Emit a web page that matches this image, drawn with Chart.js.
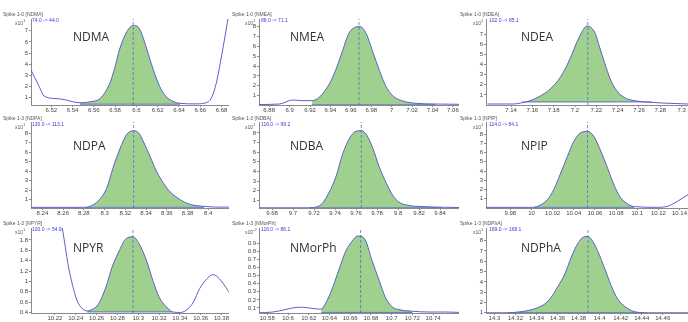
<!DOCTYPE html>
<html>
<head>
<meta charset="utf-8">
<script src="https://cdn.jsdelivr.net/npm/chart.js@4/dist/chart.umd.min.js"></script>
<style>
body { margin: 0; background: #fff; width: 688px; height: 322px; overflow: hidden; position: relative; font-family: "Liberation Sans", Arial, sans-serif; }
.panel { position: absolute; }
.name { position: absolute; font-family: "Open Sans", sans-serif; font-size: 12px; line-height: 12px; color: #333; white-space: nowrap; }
.hdr { position: absolute; font-size: 5px; line-height: 5px; color: #555; white-space: nowrap; }
.ion { color: #3b3bcf; }
</style>
</head>
<body>
<script>
// retention time (min) and counts (x10^n)
const ndmaX = [6.501, 6.508, 6.514, 6.528, 6.547, 6.557, 6.566, 6.575, 6.580, 6.584, 6.591, 6.597, 6.602, 6.606, 6.611, 6.616, 6.622, 6.628, 6.638, 6.641, 6.655, 6.667, 6.671, 6.675, 6.681, 6.687];
const ndmaY = [3.48, 2.14, 1.1, 0.9, 0.55, 0.65, 0.94, 2.29, 3.78, 5.27, 6.91, 7.47, 7.3, 6.46, 4.97, 3.48, 1.99, 1.09, 0.55, 0.5, 0.45, 0.6, 1.09, 2.29, 5.27, 8.6];
const nmeaX = [6.870, 6.890, 6.903, 6.912, 6.922, 6.929, 6.939, 6.945, 6.952, 6.958, 6.965, 6.969, 6.975, 6.981, 6.988, 6.994, 7.001, 7.010, 7.024, 7.043, 7.066];
const nmeaY = [0.1, 0.15, 0.56, 0.49, 0.49, 0.83, 2.2, 3.56, 5.6, 7.32, 7.98, 8.02, 7.32, 5.6, 3.56, 2.03, 1.0, 0.49, 0.22, 0.15, 0.12];
const ndeaX = [7.118, 7.143, 7.150, 7.156, 7.165, 7.175, 7.184, 7.190, 7.197, 7.201, 7.206, 7.211, 7.214, 7.219, 7.223, 7.228, 7.233, 7.239, 7.247, 7.256, 7.272, 7.290, 7.306];
const ndeaY = [0.1, 0.1, 0.22, 0.36, 0.76, 1.43, 2.43, 3.43, 5.0, 6.05, 7.15, 7.83, 7.76, 7.1, 5.76, 4.1, 2.6, 1.43, 0.7, 0.43, 0.26, 0.16, 0.1];
const ndpaX = [8.229, 8.282, 8.289, 8.295, 8.302, 8.308, 8.315, 8.321, 8.328, 8.333, 8.337, 8.344, 8.350, 8.357, 8.363, 8.373, 8.383, 8.396, 8.412, 8.420];
const ndpaY = [0.2, 0.2, 0.47, 1.0, 2.2, 4.3, 6.4, 7.8, 8.24, 8.0, 7.2, 5.5, 4.0, 2.7, 1.85, 1.0, 0.5, 0.3, 0.22, 0.22];
const ndbaX = [9.668, 9.715, 9.722, 9.728, 9.734, 9.741, 9.747, 9.754, 9.760, 9.765, 9.770, 9.776, 9.782, 9.789, 9.795, 9.801, 9.811, 9.823, 9.842, 9.858];
const ndbaY = [0.22, 0.22, 0.3, 0.7, 1.75, 3.5, 5.74, 7.5, 8.18, 8.24, 7.8, 6.4, 4.5, 2.75, 1.5, 0.8, 0.45, 0.35, 0.28, 0.25];
const npipX = [9.957, 10.002, 10.008, 10.015, 10.021, 10.027, 10.034, 10.040, 10.046, 10.053, 10.059, 10.065, 10.072, 10.078, 10.084, 10.091, 10.097, 10.119, 10.129, 10.138, 10.148];
const npipY = [0.07, 0.07, 0.3, 0.9, 1.98, 3.6, 5.59, 7.2, 8.1, 8.29, 7.75, 6.3, 4.3, 2.5, 1.15, 0.43, 0.15, 0.07, 0.2, 0.72, 1.44];
const npyrX = [10.197, 10.214, 10.222, 10.227, 10.230, 10.233, 10.237, 10.241, 10.246, 10.251, 10.256, 10.262, 10.269, 10.275, 10.282, 10.288, 10.295, 10.301, 10.308, 10.314, 10.320, 10.327, 10.333, 10.340, 10.346, 10.353, 10.359, 10.366, 10.372, 10.378, 10.385, 10.388];
const npyrY = [6.0, 3.5, 2.5, 2.03, 1.66, 1.28, 0.92, 0.64, 0.48, 0.43, 0.46, 0.57, 0.89, 1.28, 1.6, 1.82, 1.86, 1.72, 1.4, 1.02, 0.7, 0.51, 0.41, 0.4, 0.44, 0.6, 0.86, 1.05, 1.13, 1.05, 0.86, 0.76];
const nmorphX = [10.572, 10.585, 10.594, 10.604, 10.614, 10.623, 10.632, 10.636, 10.643, 10.649, 10.656, 10.662, 10.667, 10.670, 10.675, 10.681, 10.688, 10.694, 10.701, 10.707, 10.720, 10.736, 10.752, 10.765];
const nmorphY = [0.04, 0.05, 0.07, 0.1, 0.11, 0.095, 0.085, 0.15, 0.35, 0.57, 0.81, 0.93, 0.99, 0.99, 0.93, 0.69, 0.44, 0.23, 0.11, 0.08, 0.06, 0.05, 0.05, 0.045];
const ndphaX = [14.292, 14.313, 14.322, 14.332, 14.341, 14.348, 14.354, 14.360, 14.367, 14.373, 14.379, 14.386, 14.389, 14.393, 14.398, 14.405, 14.411, 14.417, 14.424, 14.430, 14.438, 14.455, 14.484];
const ndphaY = [1.0, 1.0, 1.07, 1.22, 1.49, 1.87, 2.52, 3.49, 4.78, 6.39, 7.68, 8.39, 8.39, 8.0, 7.03, 5.26, 3.64, 2.36, 1.61, 1.22, 1.03, 1.0, 1.0];

// x axis tick labels
const ndmaTicks = [6.52, 6.54, 6.56, 6.58, 6.6, 6.62, 6.64, 6.66, 6.68];
const nmeaTicks = [6.88, 6.9, 6.92, 6.94, 6.96, 6.98, 7, 7.02, 7.04, 7.06];
const ndeaTicks = [7.14, 7.16, 7.18, 7.2, 7.22, 7.24, 7.26, 7.28, 7.3];
const ndpaTicks = [8.24, 8.26, 8.28, 8.3, 8.32, 8.34, 8.36, 8.38, 8.4];
const ndbaTicks = [9.68, 9.7, 9.72, 9.74, 9.76, 9.78, 9.8, 9.82, 9.84];
const npipTicks = [9.98, 10, 10.02, 10.04, 10.06, 10.08, 10.1, 10.12, 10.14];
const npyrTicks = [10.22, 10.24, 10.26, 10.28, 10.3, 10.32, 10.34, 10.36, 10.38];
const nmorphTicks = [10.58, 10.6, 10.62, 10.64, 10.66, 10.68, 10.7, 10.72, 10.74];
const ndphaTicks = [14.3, 14.32, 14.34, 14.36, 14.38, 14.4, 14.42, 14.44, 14.46];

// y axis tick labels
const countTicks7 = [1, 2, 3, 4, 5, 6, 7];
const countTicks8 = [1, 2, 3, 4, 5, 6, 7, 8];
const npyrYTicks = [0.4, 0.6, 0.8, 1, 1.2, 1.4, 1.6, 1.8];
const nmorphYTicks = [0.1, 0.2, 0.3, 0.4, 0.5, 0.6, 0.7, 0.8, 0.9];

// axis ranges [xmin, xmax, ymin, ymax]
const ndmaRange = [6.501, 6.687, 0.35, 8.05];
const nmeaRange = [6.870, 7.066, 0.05, 8.79];
const ndeaRange = [7.1165, 7.306, 0, 8.53];
const ndpaRange = [8.229, 8.420, 0.13, 9.16];
const ndbaRange = [9.6676, 9.858, 0.2, 9.14];
const npipRange = [9.957, 10.148, 0, 9.3];
const npyrRange = [10.197, 10.387, 0.39, 2.03];
const nmorphRange = [10.572, 10.765, 0.038, 1.09];
const ndphaRange = [14.292, 14.484, 0.98, 9.23];

// integration: [start RT, end RT, baseline start, baseline end], apex RT
const ndmaPeak = [6.547, 6.641, 0.42, 0.42], ndmaApex = 6.597;
const nmeaPeak = [6.922, 7.043, 0.07, 0.07], nmeaApex = 6.968;
const ndeaPeak = [7.150, 7.272, 0.3, 0.3], ndeaApex = 7.212;
const ndpaPeak = [8.282, 8.396, 0.2, 0.2], ndpaApex = 8.328;
const ndbaPeak = [9.715, 9.842, 0.22, 0.22], ndbaApex = 9.765;
const npipPeak = [10.002, 10.097, 0.07, 0.07], npipApex = 10.053;
const npyrPeak = [10.251, 10.333, 0.41, 0.41], npyrApex = 10.295;
const nmorphPeak = [10.632, 10.720, 0.045, 0.045], nmorphApex = 10.670;
const ndphaPeak = [14.313, 14.438, 1.01, 1.01], ndphaApex = 14.389;

const names = ['NDMA', 'NMEA', 'NDEA', 'NDPA', 'NDBA', 'NPIP', 'NPYR', 'NMorPh', 'NDPhA'];
const samples = ['Spike 1-0', 'Spike 1-0', 'Spike 1-0', 'Spike 1-3', 'Spike 1-3', 'Spike 1-3', 'Spike 1-3', 'Spike 1-3', 'Spike 1-3'];
const transitions = ['74.0 -> 44.0', '88.0 -> 71.1', '102.0 -> 85.1', '130.0 -> 113.1', '116.0 -> 99.2', '114.0 -> 84.1', '100.0 -> 54.9', '116.0 -> 86.1', '169.0 -> 168.1'];
const exponents = ['1', '1', '1', '1', '1', '1', '1', '-2', '1'];

const panels = [
    [ndmaX, ndmaY, ndmaTicks, countTicks7, ndmaRange, ndmaPeak, ndmaApex],
    [nmeaX, nmeaY, nmeaTicks, countTicks8, nmeaRange, nmeaPeak, nmeaApex],
    [ndeaX, ndeaY, ndeaTicks, countTicks7, ndeaRange, ndeaPeak, ndeaApex],
    [ndpaX, ndpaY, ndpaTicks, countTicks8, ndpaRange, ndpaPeak, ndpaApex],
    [ndbaX, ndbaY, ndbaTicks, countTicks8, ndbaRange, ndbaPeak, ndbaApex],
    [npipX, npipY, npipTicks, countTicks8, npipRange, npipPeak, npipApex],
    [npyrX, npyrY, npyrTicks, npyrYTicks, npyrRange, npyrPeak, npyrApex],
    [nmorphX, nmorphY, nmorphTicks, nmorphYTicks, nmorphRange, nmorphPeak, nmorphApex],
    [ndphaX, ndphaY, ndphaTicks, countTicks8, ndphaRange, ndphaPeak, ndphaApex]
];

// page layout
const colLeft = [0, 229, 458];
const colWidth = [229, 230, 230];
const axisWidth = [31, 30, 28];
const rowTop = [0, 113, 217];
const rowHeight = [113, 104, 105];
const plotTop = [19, 9, 11];
const xAxisHeight = [8, 9, 9];
const nameTop = [31, 140, 241.5];
const nameLeft = [73, 290, 521];
const titleTop = [11.5, 116, 221];
const subTop = [17.8, 121.5, 226.5];
const titleLeft = [3, 232, 460];
const expLeft = [15, 245, 473];
const ionLeft = [32, 261, 489];

const lineColor = '#5b5fcc';
const fillColor = '#9fd08e';
const axisColor = '#8a8a8a';
const fmt = (v) => String(Math.round(v * 100) / 100);

function addText(cls, text, left, top) {
    const el = document.createElement('div');
    el.className = cls;
    el.textContent = text;
    el.style.left = left + 'px';
    el.style.top = top + 'px';
    document.body.appendChild(el);
    return el;
}

panels.forEach(([xs, ys, xTicks, yTicks, range, peak, apex], i) => {
    const col = i % 3;
    const row = Math.floor(i / 3);
    const w = colWidth[col];
    const h = rowHeight[row];

    const box = document.createElement('div');
    box.className = 'panel';
    box.style.left = colLeft[col] + 'px';
    box.style.top = rowTop[row] + 'px';
    const canvas = document.createElement('canvas');
    canvas.width = w;
    canvas.height = h;
    canvas.style.width = w + 'px';
    canvas.style.height = h + 'px';
    box.appendChild(canvas);
    document.body.appendChild(box);

    const points = xs.map((x, k) => ({ x, y: ys[k] }));
    const peakPoints = points.filter((p) => p.x >= peak[0] && p.x <= peak[1]);

    new Chart(canvas, {
        type: 'line',
        data: {
            datasets: [
                {
                    data: points,
                    borderColor: lineColor,
                    borderWidth: 1,
                    pointRadius: 0,
                    cubicInterpolationMode: 'monotone',
                    fill: false
                },
                {
                    data: peakPoints,
                    borderWidth: 0,
                    borderColor: 'rgba(0,0,0,0)',
                    pointRadius: 0,
                    cubicInterpolationMode: 'monotone',
                    fill: { target: 2, above: fillColor, below: fillColor }
                },
                {
                    data: [{ x: peak[0], y: peak[2] }, { x: peak[1], y: peak[3] }],
                    borderColor: '#4657c4',
                    borderWidth: 0.8,
                    pointRadius: 0,
                    fill: false
                },
                {
                    data: [{ x: apex, y: range[2] }, { x: apex, y: range[3] }],
                    borderColor: '#5a68d4',
                    borderWidth: 0.8,
                    borderDash: [3, 2],
                    pointRadius: 0,
                    fill: false
                }
            ]
        },
        options: {
            responsive: false,
            animation: false,
            devicePixelRatio: 1,
            layout: { padding: { top: plotTop[row], left: 0, right: 0, bottom: 0 }, autoPadding: false },
            plugins: {
                legend: { display: false },
                tooltip: { enabled: false },
                filler: { drawTime: 'beforeDatasetsDraw' }
            },
            scales: {
                x: {
                    type: 'linear',
                    min: range[0],
                    max: range[1],
                    afterFit: (s) => { s.height = xAxisHeight[row]; },
                    afterBuildTicks: (s) => { s.ticks = xTicks.map((v) => ({ value: v })); },
                    ticks: { callback: fmt, font: { size: 6, family: 'Liberation Sans' }, color: '#444', padding: 0, maxRotation: 0, autoSkip: false },
                    grid: { drawOnChartArea: false, tickLength: 2, color: axisColor },
                    border: { color: axisColor }
                },
                y: {
                    type: 'linear',
                    min: range[2],
                    max: range[3],
                    afterFit: (s) => { s.width = axisWidth[col]; },
                    afterBuildTicks: (s) => { s.ticks = yTicks.map((v) => ({ value: v })); },
                    ticks: { callback: fmt, font: { size: 6, family: 'Liberation Sans' }, color: '#444', padding: 1, autoSkip: false },
                    grid: { drawOnChartArea: false, tickLength: 2, color: axisColor },
                    border: { color: axisColor }
                }
            }
        }
    });

    addText('name', names[i], nameLeft[col], nameTop[row]);
    addText('hdr', samples[i] + ' [' + names[i] + ']', titleLeft[col], titleTop[row]);
    const exp = addText('hdr', 'x10', expLeft[col], subTop[row]);
    const sup = document.createElement('sup');
    sup.textContent = exponents[i];
    sup.style.fontSize = '4px';
    exp.appendChild(sup);
    addText('hdr ion', transitions[i], ionLeft[col], subTop[row]);
});
</script>
</body>
</html>
